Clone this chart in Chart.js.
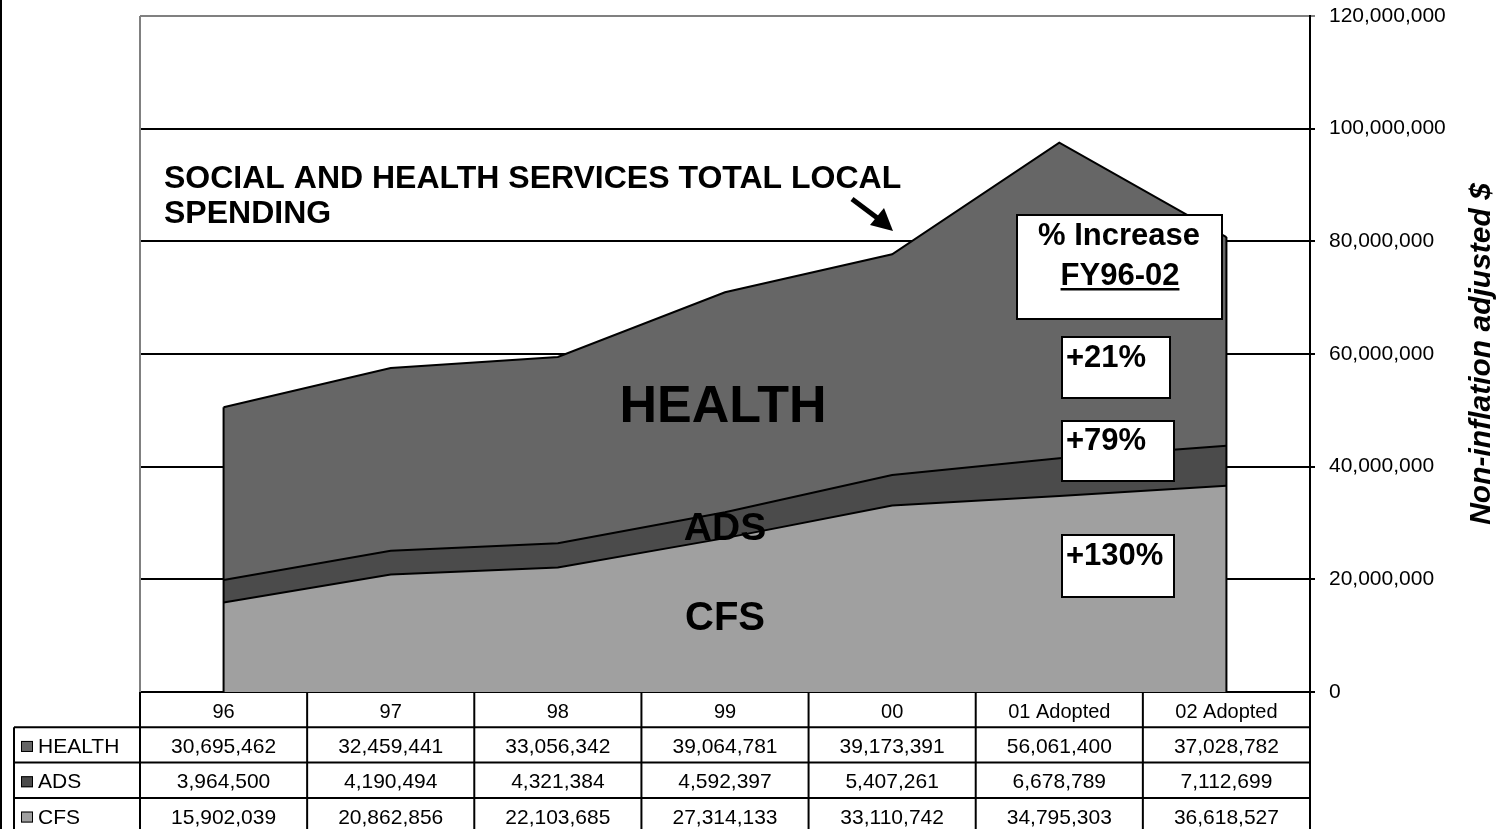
<!DOCTYPE html>
<html><head><meta charset="utf-8">
<script src="https://cdn.jsdelivr.net/npm/chart.js@4"></script>
<style>html,body{margin:0;padding:0;background:#fff;overflow:hidden;} #wrap{width:1501px;height:829px;position:relative;}</style>
</head><body><div id="wrap"><canvas id="c" width="1501" height="829"></canvas></div>
<script>
const categories = ['96', '97', '98', '99', '00', '01 Adopted', '02 Adopted'];
const health = [30695462, 32459441, 33056342, 39064781, 39173391, 56061400, 37028782];
const ads = [3964500, 4190494, 4321384, 4592397, 5407261, 6678789, 7112699];
const cfs = [15902039, 20862856, 22103685, 27314133, 33110742, 34795303, 36618527];
const yTicks = [0, 20000000, 40000000, 60000000, 80000000, 100000000, 120000000];
const seriesNames = ['HEALTH', 'ADS', 'CFS'];
const increases = ['+21%', '+79%', '+130%'];
const titleLines = ['SOCIAL AND HEALTH SERVICES TOTAL LOCAL', 'SPENDING'];
const axisTitle = 'Non-inflation adjusted $';

const colors = { HEALTH: '#666666', ADS: '#4b4b4b', CFS: '#a0a0a0' };
const tableRows = [ { name: 'HEALTH', values: health }, { name: 'ADS', values: ads }, { name: 'CFS', values: cfs } ];
const fmt = v => v.toLocaleString('en-US');
const FONT = '"Liberation Sans", Arial, sans-serif';

const decor = {
  id: 'decor',
  afterDatasetsDraw(chart) {
    const ctx = chart.ctx, x = chart.scales.x, y = chart.scales.y;
    ctx.save();
    ctx.strokeStyle = '#000'; ctx.lineWidth = 2;
    [0, categories.length - 1].forEach(i => {
      const px = x.getPixelForValue(i);
      const tot = cfs[i] + ads[i] + health[i];
      ctx.beginPath();
      ctx.moveTo(px, y.getPixelForValue(0));
      ctx.lineTo(px, y.getPixelForValue(tot));
      ctx.stroke();
    });
    ctx.restore();
  },
  afterDraw(chart) {
    const ctx = chart.ctx, x = chart.scales.x, ca = chart.chartArea;
    ctx.save();
    // plot frame left (grey)
    ctx.strokeStyle = '#808080'; ctx.lineWidth = 2;
    ctx.beginPath(); ctx.moveTo(ca.left, ca.top); ctx.lineTo(ca.left, ca.bottom); ctx.stroke();
    // outer left border line
    ctx.strokeStyle = '#000';
    ctx.beginPath(); ctx.moveTo(1, 0); ctx.lineTo(1, 829); ctx.stroke();

    // ---- data table ----
    const n = categories.length;
    const cw = (ca.right - ca.left) / n;
    const rowH = 35.3;
    const top = ca.bottom;
    const legendLeft = 14;
    const bottom = top + rowH * 4;
    ctx.strokeStyle = '#000'; ctx.lineWidth = 2;
    for (let i = 0; i <= n; i++) {
      const cx = ca.left + i * cw;
      ctx.beginPath(); ctx.moveTo(cx, top); ctx.lineTo(cx, bottom); ctx.stroke();
    }
    for (let r = 1; r <= 4; r++) {
      const ry = top + r * rowH;
      ctx.beginPath(); ctx.moveTo(legendLeft, ry); ctx.lineTo(ca.right, ry); ctx.stroke();
    }
    ctx.beginPath(); ctx.moveTo(legendLeft, top + rowH); ctx.lineTo(legendLeft, bottom); ctx.stroke();

    ctx.fillStyle = '#000';
    ctx.font = '20px ' + FONT;
    ctx.textAlign = 'center'; ctx.textBaseline = 'alphabetic';
    categories.forEach((c, i) => {
      ctx.fillText(c, x.getPixelForValue(i), top + rowH / 2 + 8);
    });
    ctx.font = '21px ' + FONT;
    tableRows.forEach((row, r) => {
      const cy = top + rowH * (r + 1) + rowH / 2;
      row.values.forEach((v, i) => {
        ctx.textAlign = 'center';
        ctx.fillText(fmt(v), x.getPixelForValue(i), cy + 8);
      });
      ctx.fillStyle = colors[row.name];
      ctx.fillRect(21, cy - 4, 12, 11);
      ctx.lineWidth = 1; ctx.strokeStyle = '#000';
      ctx.strokeRect(21.5, cy - 3.5, 11, 10);
      ctx.fillStyle = '#000';
      ctx.textAlign = 'left';
      ctx.fillText(row.name, 38, cy + 8);
    });

    // ---- title ----
    ctx.font = 'bold 32px ' + FONT;
    ctx.textAlign = 'left';
    ctx.fillText(titleLines[0], 164, 188);
    ctx.fillText(titleLines[1], 164, 223);

    // arrow
    ctx.strokeStyle = '#000'; ctx.lineWidth = 5;
    ctx.beginPath(); ctx.moveTo(852, 199); ctx.lineTo(880, 220); ctx.stroke();
    ctx.beginPath();
    ctx.moveTo(893, 231); ctx.lineTo(870, 225); ctx.lineTo(884, 208); ctx.closePath();
    ctx.fill();

    // area labels
    ctx.textAlign = 'center';
    ctx.font = 'bold 52px ' + FONT; ctx.fillText('HEALTH', 723, 422);
    ctx.font = 'bold 39px ' + FONT; ctx.fillText('ADS', 725, 540);
    ctx.font = 'bold 40px ' + FONT; ctx.fillText('CFS', 725, 630);

    // boxes
    const box = (x0, y0, x1, y1) => {
      ctx.fillStyle = '#fff'; ctx.fillRect(x0, y0, x1 - x0, y1 - y0);
      ctx.strokeStyle = '#000'; ctx.lineWidth = 2; ctx.strokeRect(x0, y0, x1 - x0, y1 - y0);
      ctx.fillStyle = '#000';
    };
    box(1017, 215, 1222, 319);
    ctx.font = 'bold 31px ' + FONT; ctx.textAlign = 'center';
    ctx.fillText('% Increase', 1119, 245);
    ctx.fillText('FY96-02', 1120, 285);
    const uw = ctx.measureText('FY96-02').width;
    ctx.fillRect(1120 - uw / 2, 288, uw, 2.5);

    const pbox = [[1062, 337, 1170, 398, 367], [1062, 421, 1174, 481, 450], [1062, 535, 1174, 597, 565]];
    pbox.forEach((b, i) => {
      box(b[0], b[1], b[2], b[3]);
      ctx.font = 'bold 31px ' + FONT; ctx.textAlign = 'left';
      ctx.fillText(increases[i], 1066, b[4]);
    });

    // axis title
    ctx.save();
    ctx.translate(1490, 354);
    ctx.rotate(-Math.PI / 2);
    ctx.font = 'italic bold 30px ' + FONT;
    ctx.textAlign = 'center';
    ctx.fillText(axisTitle, 0, 0);
    ctx.restore();

    ctx.restore();
  }
};

new Chart(document.getElementById('c'), {
  type: 'line',
  data: {
    labels: categories,
    datasets: [
      { label: 'CFS', data: cfs, backgroundColor: colors.CFS, fill: 'origin' },
      { label: 'ADS', data: ads, backgroundColor: colors.ADS, fill: '-1' },
      { label: 'HEALTH', data: health, backgroundColor: colors.HEALTH, fill: '-1' }
    ].map(d => Object.assign(d, { borderColor: '#000', borderWidth: 2, pointRadius: 0, tension: 0 }))
  },
  options: {
    responsive: false,
    devicePixelRatio: 1,
    animation: false,
    layout: { padding: { left: 140, top: 16, bottom: 137, right: 0 } },
    plugins: { legend: { display: false }, tooltip: { enabled: false }, filler: { propagate: false } },
    scales: {
      x: { display: false, offset: true },
      y: {
        position: 'right',
        stacked: true,
        min: 0, max: 120000000,
        afterFit(s) { s.width = 191; s.paddingTop = 0; s.paddingBottom = 0; },
        afterBuildTicks(s) { s.ticks = yTicks.map(v => ({ value: v })); },
        ticks: {
          color: '#000',
          padding: 14,
          font: { family: '"Liberation Sans", Arial, sans-serif', size: 21 },
          callback: v => fmt(v)
        },
        grid: {
          color: ctx => (ctx.tick && ctx.tick.value === 120000000) ? '#808080' : '#000',
          lineWidth: 2,
          tickLength: 5,
          drawTicks: true
        },
        border: { display: true, color: '#000', width: 2 }
      }
    }
  },
  plugins: [decor]
});
</script>
</body></html>
